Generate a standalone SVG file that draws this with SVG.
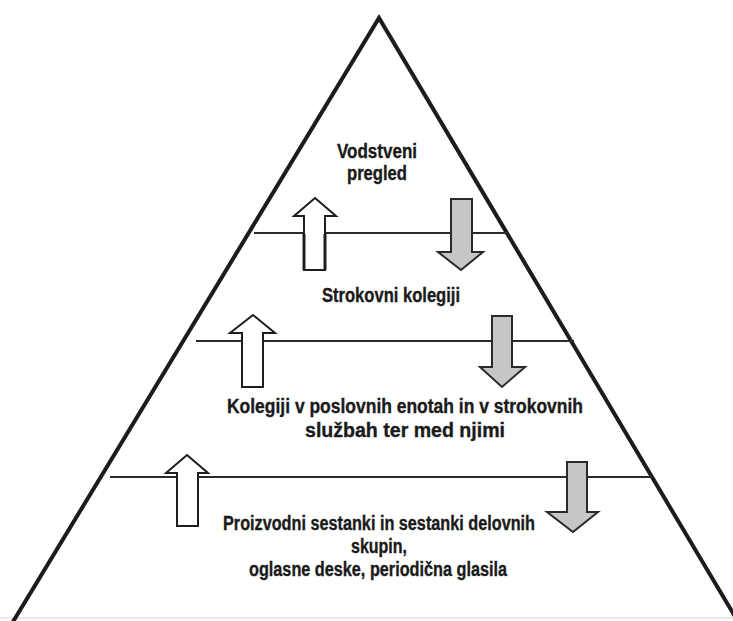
<svg xmlns="http://www.w3.org/2000/svg" width="733" height="621" viewBox="0 0 733 621">
  <style>
    .edge { fill: none; stroke: #1c1c1c; stroke-width: 4; stroke-linejoin: miter; }
    .divider { stroke: #2a2a2a; stroke-width: 2; fill: none; }
    .up { fill: #ffffff; stroke: #1e1e1e; stroke-width: 2; stroke-linejoin: miter; }
    .down { fill: #c6c6c6; stroke: #2a2a2a; stroke-width: 2; stroke-linejoin: miter; }
    .lbl { font-family: "Liberation Sans", Arial, sans-serif; font-weight: bold; font-size: 20px; fill: #1a1a1a; stroke: #1a1a1a; stroke-width: 0.35; text-anchor: middle; }
  </style>

  <rect x="0" y="0" width="733" height="621" fill="#ffffff"/>
  <!-- faint base line along the bottom -->
  <line x1="0" y1="618" x2="733" y2="618" stroke="#e2e2e2" stroke-width="1.5"/>

  <!-- pyramid outline (open at the base) -->
  <g id="pyramid">
    <polyline class="edge" points="8,630 379,18 743,630"/>
  </g>

  <!-- level dividers -->
  <g id="connectors">
    <line class="divider" x1="254" y1="233" x2="508" y2="233"/>
    <line class="divider" x1="196" y1="341" x2="574" y2="341"/>
    <line class="divider" x1="110" y1="477" x2="652" y2="477"/>

    <!-- upward (white) and downward (grey) flow arrows -->
    <polygon class="up" points="315,198 336,216 325,216 325,270 304,270 304,216 294,216"/>
    <line x1="304" y1="234" x2="304" y2="270" stroke="#1e1e1e" stroke-width="3"/>
    <line x1="325" y1="234" x2="325" y2="270" stroke="#1e1e1e" stroke-width="3"/>
    <polygon class="down" points="451,199 472,199 472,252 483,252 461,270 438,252 451,252"/>

    <polygon class="up" points="253,315 275,333 263,333 263,387 242,387 242,333 230,333"/>
    <polygon class="down" points="492,316 512,316 512,367 525,367 502,387 480,367 492,367"/>

    <polygon class="up" points="187,455 208,473 198,473 198,526 177,526 177,473 166,473"/>
    <polygon class="down" points="567,462 587,462 587,512 598,512 573,532 547,512 567,512"/>
  </g>

  <g id="level-top">
    <text class="lbl" x="377" y="158" textLength="80" lengthAdjust="spacingAndGlyphs">Vodstveni</text>
    <text class="lbl" x="377" y="180" textLength="60" lengthAdjust="spacingAndGlyphs">pregled</text>
  </g>

  <g id="level-2">
    <text class="lbl" x="391" y="302" textLength="138" lengthAdjust="spacingAndGlyphs">Strokovni kolegiji</text>
  </g>

  <g id="level-3">
    <text class="lbl" x="405" y="413" textLength="356" lengthAdjust="spacingAndGlyphs">Kolegiji v poslovnih enotah in v strokovnih</text>
    <text class="lbl" x="405" y="437" textLength="200" lengthAdjust="spacingAndGlyphs">službah ter med njimi</text>
  </g>

  <g id="level-base">
    <text class="lbl" x="379" y="530" textLength="312" lengthAdjust="spacingAndGlyphs">Proizvodni sestanki in sestanki delovnih</text>
    <text class="lbl" x="379" y="553" textLength="56" lengthAdjust="spacingAndGlyphs">skupin,</text>
    <text class="lbl" x="378" y="576" textLength="258" lengthAdjust="spacingAndGlyphs">oglasne deske, periodična glasila</text>
  </g>
</svg>
